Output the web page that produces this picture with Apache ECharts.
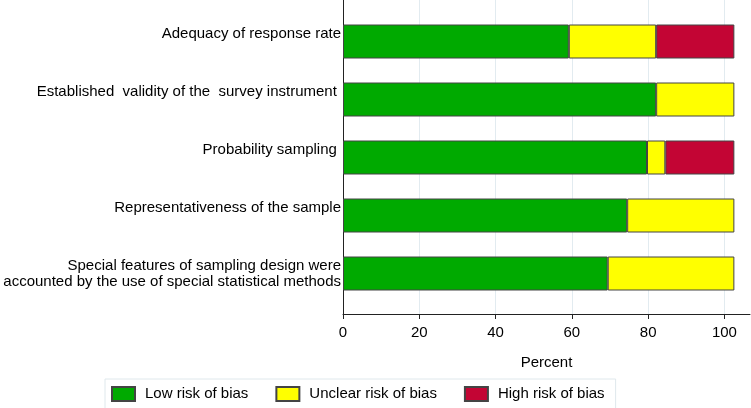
<!DOCTYPE html>
<html>
<head>
<meta charset="utf-8">
<script src="https://cdn.jsdelivr.net/npm/echarts@6/dist/echarts.min.js"></script>
<style>html,body{margin:0;padding:0;background:#fff}#c{width:751px;height:408px}</style>
</head>
<body>
<div id="c"></div>
<script>
const categories = [
  "Adequacy of response rate",
  "Established  validity of the  survey instrument ",
  "Probability sampling ",
  "Representativeness of the sample",
  "Special features of sampling design were\naccounted by the use of special statistical methods"
];
const lowRisk = [59.2, 82.1, 79.7, 74.5, 69.4];
const unclearRisk = [22.9, 20.5, 4.8, 28.1, 33.2];
const highRisk = [20.5, 0, 18.1, 0, 0];
const xTicks = [0, 20, 40, 60, 80, 100];
const seriesNames = ["Low risk of bias", "Unclear risk of bias", "High risk of bias"];

const FONT = "'Liberation Sans', Arial, sans-serif";
const XMAX = 106.7;
const colors = ['#00aa00', '#ffff00', '#c30534'];
const chart = echarts.init(document.getElementById('c'), null, {renderer: 'canvas'});

const seriesData = [lowRisk, unclearRisk, highRisk];
const series = seriesNames.map((n, i) => ({
  name: n,
  type: 'bar',
  stack: 'total',
  xAxisIndex: 1,
  yAxisIndex: 1,
  barWidth: 34,
  data: seriesData[i].map(v => v === 0 ? null : v),
  itemStyle: {color: colors[i], borderColor: '#444', borderWidth: 1},
  emphasis: {disabled: true},
  animation: false
}));

chart.setOption({
  animation: false,
  textStyle: {fontFamily: FONT},
  grid: [
    {left: 343, right: 1, top: 0, height: 314, containLabel: false},
    {left: 343, right: 1, top: 12.5, height: 290, containLabel: false}
  ],
  xAxis: [
    {
      type: 'value', gridIndex: 0, min: 0, max: XMAX, interval: 20,
      axisLine: {show: true, lineStyle: {color: '#222', width: 1}},
      axisTick: {show: true, length: 5, lineStyle: {color: '#222'}},
      axisLabel: {
        fontSize: 15, color: '#000', margin: 11, fontFamily: FONT,
        showMaxLabel: false,
        formatter: v => xTicks.indexOf(v) >= 0 ? String(v) : ''
      },
      splitLine: {show: true, showMaxLine: false, lineStyle: {color: '#e2ebf0', width: 1}},
      name: 'Percent', nameLocation: 'middle', nameGap: 41,
      nameTextStyle: {fontSize: 15, color: '#000', fontFamily: FONT}
    },
    {type: 'value', gridIndex: 1, min: 0, max: XMAX, show: false}
  ],
  yAxis: [
    {
      type: 'value', gridIndex: 0, min: 0, max: 1,
      axisLine: {show: true, lineStyle: {color: '#222', width: 1}},
      axisTick: {show: false}, axisLabel: {show: false}, splitLine: {show: false}
    },
    {
      type: 'category', gridIndex: 1, data: categories, inverse: true,
      axisLine: {show: false}, axisTick: {show: false}, splitLine: {show: false},
      axisLabel: {
        fontSize: 15, color: '#000', margin: 2, lineHeight: 16, fontFamily: FONT,
        align: 'right',
        formatter: v => v.indexOf('\n') >= 0 ? v : v + '\n '
      }
    }
  ],
  legend: {
    data: seriesNames,
    left: 105, top: 379,
    orient: 'horizontal',
    itemWidth: 23, itemHeight: 14, itemGap: 27,
    padding: [7, 11, 7, 6],
    borderColor: '#dfe8ec', borderWidth: 1, backgroundColor: '#fff',
    icon: 'rect',
    selectedMode: false,
    textStyle: {fontSize: 15, color: '#000', fontFamily: FONT, padding: [0, 0, 0, 5]}
  },
  series: series
});
</script>
</body>
</html>
